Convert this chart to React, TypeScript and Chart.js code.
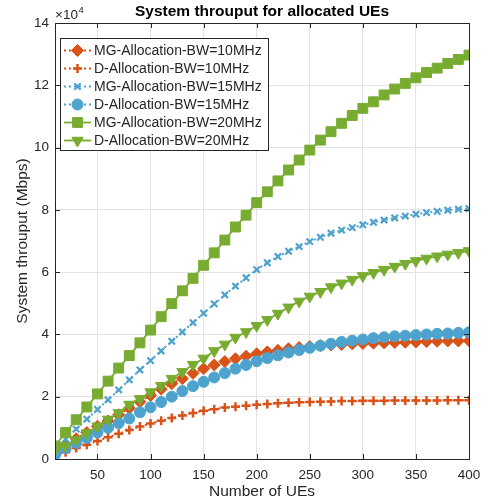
import React, { useEffect, useRef } from "react";
import { Chart, registerables } from "chart.js";

Chart.register(...registerables);

// Number of UEs
const ues = [10, 20, 30, 40, 50, 60, 70, 80, 90, 100, 110, 120, 130, 140, 150, 160, 170, 180, 190, 200,
  210, 220, 230, 240, 250, 260, 270, 280, 290, 300, 310, 320, 330, 340, 350, 360, 370, 380, 390, 400];

// Throughput values in units of 10^4 Mbps
const mg10 = [0.20, 0.45, 0.65, 0.85, 1.05, 1.22, 1.42, 1.63, 1.84, 2.04, 2.24, 2.42, 2.58, 2.75, 2.90, 3.02, 3.13, 3.22, 3.30, 3.38,
  3.44, 3.49, 3.54, 3.58, 3.61, 3.64, 3.66, 3.68, 3.70, 3.71, 3.72, 3.73, 3.74, 3.75, 3.76, 3.77, 3.78, 3.79, 3.79, 3.80];
const d10 = [0.10, 0.22, 0.35, 0.46, 0.58, 0.70, 0.81, 0.93, 1.04, 1.14, 1.23, 1.32, 1.40, 1.48, 1.55, 1.60, 1.65, 1.68, 1.71, 1.74,
  1.77, 1.79, 1.81, 1.82, 1.83, 1.84, 1.85, 1.86, 1.86, 1.87, 1.87, 1.87, 1.88, 1.88, 1.88, 1.88, 1.88, 1.89, 1.89, 1.89];
const mg15 = [0.30, 0.64, 0.96, 1.28, 1.59, 1.90, 2.22, 2.54, 2.86, 3.16, 3.47, 3.78, 4.08, 4.38, 4.68, 4.98, 5.27, 5.55, 5.82, 6.08,
  6.30, 6.50, 6.67, 6.82, 6.98, 7.12, 7.25, 7.35, 7.43, 7.52, 7.60, 7.67, 7.74, 7.80, 7.86, 7.91, 7.95, 7.99, 8.02, 8.04];
const d15 = [0.13, 0.35, 0.52, 0.68, 0.85, 1.00, 1.15, 1.30, 1.50, 1.66, 1.83, 2.00, 2.18, 2.34, 2.48, 2.62, 2.76, 2.90, 3.02, 3.14,
  3.24, 3.33, 3.42, 3.50, 3.57, 3.64, 3.70, 3.76, 3.80, 3.84, 3.88, 3.91, 3.94, 3.96, 3.98, 4.00, 4.02, 4.03, 4.05, 4.07];
const mg20 = [0.42, 0.85, 1.26, 1.67, 2.09, 2.50, 2.92, 3.32, 3.73, 4.14, 4.57, 4.99, 5.40, 5.80, 6.22, 6.62, 7.03, 7.45, 7.83, 8.23,
  8.58, 8.93, 9.28, 9.60, 9.92, 10.24, 10.51, 10.78, 11.03, 11.26, 11.47, 11.69, 11.88, 12.06, 12.24, 12.41, 12.55, 12.70, 12.83, 12.97];
const d20 = [0.30, 0.42, 0.62, 0.83, 1.05, 1.27, 1.48, 1.75, 1.93, 2.15, 2.35, 2.58, 2.80, 3.03, 3.23, 3.47, 3.68, 3.90, 4.08, 4.28,
  4.47, 4.67, 4.87, 5.06, 5.22, 5.37, 5.52, 5.64, 5.76, 5.88, 5.98, 6.08, 6.18, 6.27, 6.36, 6.44, 6.51, 6.57, 6.62, 6.68];

const seriesNames = [
  "MG-Allocation-BW=10MHz",
  "D-Allocation-BW=10MHz",
  "MG-Allocation-BW=15MHz",
  "D-Allocation-BW=15MHz",
  "MG-Allocation-BW=20MHz",
  "D-Allocation-BW=20MHz",
];
const xTicks = [50, 100, 150, 200, 250, 300, 350, 400];
const yTicks = [0, 2, 4, 6, 8, 10, 12, 14];
const SCALE = 10000;

const ORANGE = "#D95319";
const BLUE = "#4DA3CD";
const GREEN = "#77AC30";
const AXIS = "#262626";
const FONT = "'Liberation Sans', Arial, Helvetica, sans-serif";

type Style = {
  color: string;
  dash: number[];
  lineWidth: number;
  pointStyle: string;
  radius: number;
  rotation: number;
  pointBorderWidth: number;
};

const styles: Style[] = [
  { color: ORANGE, dash: [2, 3], lineWidth: 2, pointStyle: "rectRot", radius: 6, rotation: 0, pointBorderWidth: 1 },
  { color: ORANGE, dash: [2, 3], lineWidth: 2, pointStyle: "cross", radius: 4.5, rotation: 0, pointBorderWidth: 2.5 },
  { color: BLUE, dash: [2, 3], lineWidth: 2, pointStyle: "crossRot", radius: 4.5, rotation: 0, pointBorderWidth: 2.2 },
  { color: BLUE, dash: [2, 3], lineWidth: 2, pointStyle: "circle", radius: 5.5, rotation: 0, pointBorderWidth: 1 },
  { color: GREEN, dash: [], lineWidth: 1.8, pointStyle: "rect", radius: 7, rotation: 0, pointBorderWidth: 1 },
  { color: GREEN, dash: [], lineWidth: 1.8, pointStyle: "triangle", radius: 6.5, rotation: 180, pointBorderWidth: 1 },
];

function drawMarker(ctx: CanvasRenderingContext2D, s: Style, x: number, y: number) {
  const r = s.radius;
  ctx.save();
  ctx.setLineDash([]);
  ctx.fillStyle = s.color;
  ctx.strokeStyle = s.color;
  ctx.lineWidth = s.pointBorderWidth;
  ctx.beginPath();
  switch (s.pointStyle) {
    case "rectRot":
      ctx.moveTo(x, y - r); ctx.lineTo(x + r, y); ctx.lineTo(x, y + r); ctx.lineTo(x - r, y); ctx.closePath();
      ctx.fill(); ctx.stroke(); break;
    case "cross":
      ctx.moveTo(x - r, y); ctx.lineTo(x + r, y); ctx.moveTo(x, y - r); ctx.lineTo(x, y + r); ctx.stroke(); break;
    case "crossRot": {
      const o = r * Math.SQRT1_2;
      ctx.moveTo(x - o, y - o); ctx.lineTo(x + o, y + o); ctx.moveTo(x - o, y + o); ctx.lineTo(x + o, y - o); ctx.stroke(); break;
    }
    case "circle":
      ctx.arc(x, y, r, 0, Math.PI * 2); ctx.fill(); ctx.stroke(); break;
    case "rect": {
      const h = r * Math.SQRT1_2;
      ctx.rect(x - h, y - h, 2 * h, 2 * h); ctx.fill(); ctx.stroke(); break;
    }
    case "triangle": {
      for (let k = 0; k < 3; k++) {
        const a = Math.PI + (k * 2 * Math.PI) / 3;
        const px = x + Math.sin(a) * r;
        const py = y - Math.cos(a) * r;
        if (k === 0) ctx.moveTo(px, py); else ctx.lineTo(px, py);
      }
      ctx.closePath(); ctx.fill(); ctx.stroke(); break;
    }
  }
  ctx.restore();
}

const decorPlugin = {
  id: "decor",
  afterDraw(chart: any) {
    const ctx: CanvasRenderingContext2D = chart.ctx;
    const { left, right, top, bottom } = chart.chartArea;
    const xs = chart.scales.x;
    const ys = chart.scales.y;
    ctx.save();
    ctx.strokeStyle = AXIS;
    ctx.lineWidth = 1;
    ctx.setLineDash([]);
    ctx.strokeRect(Math.round(left) + 0.5, Math.round(top) + 0.5, Math.round(right - left), Math.round(bottom - top));
    const tl = 5;
    ctx.beginPath();
    for (const v of xTicks) {
      const px = Math.round(xs.getPixelForValue(v)) + 0.5;
      ctx.moveTo(px, bottom); ctx.lineTo(px, bottom - tl);
      ctx.moveTo(px, top); ctx.lineTo(px, top + tl);
    }
    for (const v of yTicks) {
      const py = Math.round(ys.getPixelForValue(v * SCALE)) + 0.5;
      ctx.moveTo(left, py); ctx.lineTo(left + tl, py);
      ctx.moveTo(right, py); ctx.lineTo(right - tl, py);
    }
    ctx.stroke();

    ctx.fillStyle = "#000";
    ctx.font = `bold 15.5px ${FONT}`;
    ctx.textAlign = "center";
    ctx.textBaseline = "middle";
    ctx.fillText("System throuput for allocated UEs", (left + right) / 2, 11.5);

    ctx.fillStyle = AXIS;
    ctx.font = `15.5px ${FONT}`;
    ctx.fillText("Number of UEs", (left + right) / 2, 492);
    ctx.save();
    ctx.translate(23, (top + bottom) / 2);
    ctx.rotate(-Math.PI / 2);
    ctx.fillText("System throuput (Mbps)", 0, 0);
    ctx.restore();

    ctx.textAlign = "left";
    ctx.textBaseline = "alphabetic";
    ctx.font = `13.5px ${FONT}`;
    ctx.fillText("\u00d710", 55, 19);
    const w = ctx.measureText("\u00d710").width;
    ctx.font = `9.5px ${FONT}`;
    ctx.fillText("4", 55 + w + 0.5, 13);

    const lx = 60.5, ly = 38.5, lw = 208, lh = 112;
    ctx.fillStyle = "#fff";
    ctx.fillRect(lx, ly, lw, lh);
    ctx.strokeStyle = AXIS;
    ctx.lineWidth = 1;
    ctx.strokeRect(lx, ly, lw, lh);
    ctx.font = `14px ${FONT}`;
    ctx.textBaseline = "middle";
    for (let i = 0; i < seriesNames.length; i++) {
      const s = styles[i];
      const cy = 50.5 + i * 18;
      ctx.strokeStyle = s.color;
      ctx.lineWidth = s.lineWidth;
      ctx.setLineDash(s.dash);
      ctx.beginPath();
      ctx.moveTo(64, cy);
      ctx.lineTo(91, cy);
      ctx.stroke();
      ctx.setLineDash([]);
      drawMarker(ctx, s, 77.5, cy);
      ctx.fillStyle = AXIS;
      ctx.fillText(seriesNames[i], 94, cy + 0.5);
    }
    ctx.restore();
  },
};

export default function App() {
  const ref = useRef<HTMLCanvasElement>(null);
  useEffect(() => {
    if (!ref.current) return;
    const all = [mg10, d10, mg15, d15, mg20, d20];
    const datasets = all.map((arr, i) => {
      const s = styles[i];
      return {
        label: seriesNames[i],
        data: ues.map((u, k) => ({ x: u, y: arr[k] * SCALE })),
        borderColor: s.color,
        backgroundColor: s.color,
        borderWidth: s.lineWidth,
        borderDash: s.dash,
        pointStyle: s.pointStyle,
        pointRadius: s.radius,
        pointRotation: s.rotation,
        pointBackgroundColor: s.color,
        pointBorderColor: s.color,
        pointBorderWidth: s.pointBorderWidth,
        fill: false,
        tension: 0,
        order: 6 - i,
      };
    });
    const chart = new Chart(ref.current, {
      type: "line",
      data: { datasets },
      options: {
        animation: false,
        responsive: false,
        devicePixelRatio: 1,
        layout: { padding: { top: 23, right: 20, left: 0, bottom: 0 } },
        plugins: { legend: { display: false }, title: { display: false }, tooltip: { enabled: false } },
        scales: {
          x: {
            type: "linear",
            min: 10,
            max: 400,
            afterFit: (s: any) => { s.height = 45; },
            afterBuildTicks: (s: any) => { s.ticks = xTicks.map((v) => ({ value: v })); },
            grid: { color: "#e3e3e3", drawTicks: false, lineWidth: 1 },
            border: { display: false },
            ticks: {
              padding: 8,
              color: AXIS,
              font: { family: FONT, size: 13.5 },
              maxRotation: 0,
              autoSkip: false,
            },
          },
          y: {
            type: "linear",
            min: 0,
            max: 14 * SCALE,
            afterFit: (s: any) => { s.width = 55; },
            afterBuildTicks: (s: any) => { s.ticks = yTicks.map((v) => ({ value: v * SCALE })); },
            grid: { color: "#e3e3e3", drawTicks: false, lineWidth: 1 },
            border: { display: false },
            ticks: {
              padding: 6,
              color: AXIS,
              font: { family: FONT, size: 13.5 },
              callback: (v: any) => String(Math.round(Number(v) / SCALE)),
            },
          },
        },
      } as any,
      plugins: [decorPlugin],
    });
    return () => chart.destroy();
  }, []);
  return (
    <div style={{ position: "absolute", left: 0, top: 0, width: 489, height: 504, background: "#fff" }}>
      <canvas ref={ref} width={489} height={504} style={{ width: 489, height: 504, display: "block" }} />
    </div>
  );
}
